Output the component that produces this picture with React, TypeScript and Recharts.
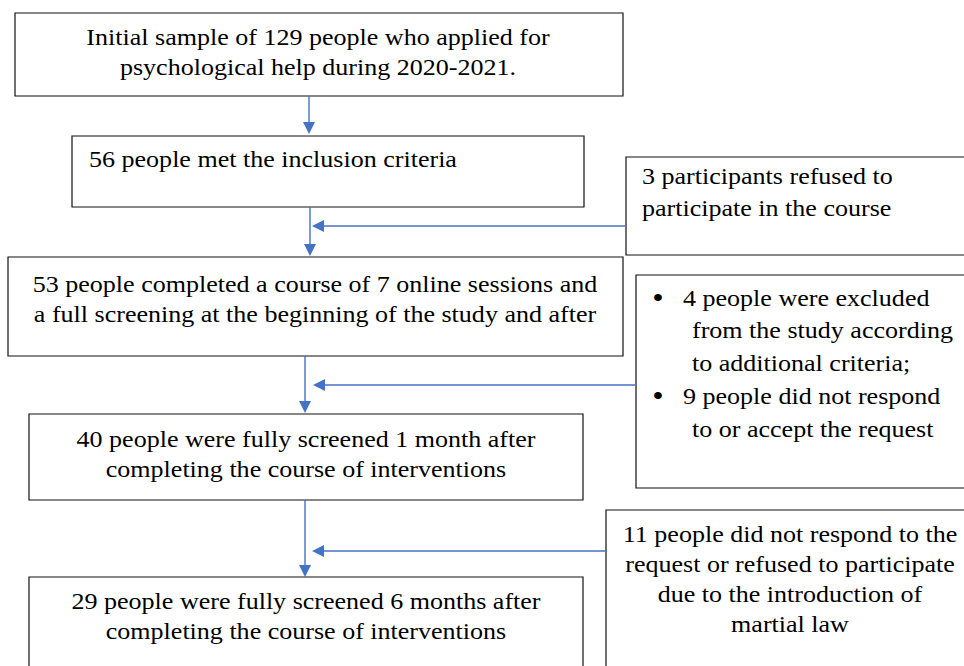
import React from "react";
import { ComposedChart, XAxis, YAxis, ReferenceArea, ReferenceLine, Scatter } from "recharts";

// ---- content (text of each flowchart box) ----
const initialLines = ["Initial sample of 129 people who applied for", "psychological help during 2020-2021."];
const inclusionLines = ["56 people met the inclusion criteria"];
const refusedLines = ["3 participants refused to", "participate in the course"];
const completedLines = [
  "53 people completed a course of 7 online sessions and",
  "a full screening at the beginning of the study and after",
];
const excludedBullets = [
  ["4 people were excluded", "from the study according", "to additional criteria;"],
  ["9 people did not respond", "to or accept the request"],
];
const oneMonthLines = ["40 people were fully screened 1 month after", "completing the course of interventions"];
const sixMonthLines = ["29 people were fully screened 6 months after", "completing the course of interventions"];
const martialLines = [
  "11 people did not respond to the",
  "request or refused to participate",
  "due to the introduction of",
  "martial law",
];

// ---- layout (diagram units = pixels of the 964x666 canvas) ----
const W = 964;
const H = 666;
const boxes = [
  { x1: 15, x2: 623, y1: 13, y2: 96 },
  { x1: 72, x2: 584, y1: 136, y2: 207 },
  { x1: 626, x2: 980, y1: 157, y2: 255 },
  { x1: 8, x2: 623, y1: 257, y2: 356 },
  { x1: 636, x2: 980, y1: 275, y2: 488 },
  { x1: 29, x2: 583, y1: 414, y2: 500 },
  { x1: 29, x2: 583, y1: 577, y2: 690 },
  { x1: 606, x2: 980, y1: 510, y2: 690 },
];
const connectors = [
  { from: { x: 309, y: 96 }, to: { x: 309, y: 134 }, dir: "down" },
  { from: { x: 310, y: 207 }, to: { x: 310, y: 256 }, dir: "down" },
  { from: { x: 626, y: 226 }, to: { x: 312, y: 226 }, dir: "left" },
  { from: { x: 305, y: 356 }, to: { x: 305, y: 413 }, dir: "down" },
  { from: { x: 636, y: 385 }, to: { x: 313, y: 385 }, dir: "left" },
  { from: { x: 305, y: 500 }, to: { x: 305, y: 577 }, dir: "down" },
  { from: { x: 606, y: 551 }, to: { x: 312, y: 551 }, dir: "left" },
];
const HEAD = 12;

type Pt = { x: number; y: number; text: string };
const linesAt = (lines: string[], x: number, y0: number, lh: number): Pt[] =>
  lines.map((t, i) => ({ x, y: y0 + i * lh, text: t }));

const centeredText: Pt[] = [
  ...linesAt(initialLines, 318, 45, 30),
  ...linesAt(completedLines, 315, 292, 29.5),
  ...linesAt(oneMonthLines, 306, 447, 29.5),
  ...linesAt(sixMonthLines, 306, 609, 29.5),
  ...linesAt(martialLines, 790, 542, 30),
];
const leftText: Pt[] = [
  ...linesAt(inclusionLines, 89, 167, 30),
  ...linesAt(refusedLines, 642, 184, 32),
  { x: 683, y: 306, text: excludedBullets[0][0] },
  ...linesAt(excludedBullets[0].slice(1), 692, 338, 32.5),
  { x: 683, y: 404, text: excludedBullets[1][0] },
  ...linesAt(excludedBullets[1].slice(1), 692, 437, 32.5),
];
const bulletMarks: Pt[] = [
  { x: 658, y: 308, text: "\u2022" },
  { x: 658, y: 406, text: "\u2022" },
];

const arrowHeads = connectors.map((c) => ({ x: c.to.x, y: c.to.y, dir: c.dir }));

const BLUE = "#4472C4";
const FONT = "Liberation Serif";
const FS = 24;
const SX = 1.085;

const makeText = (anchor: "start" | "middle", size: number) => (p: any) => (
  <text
    transform={`translate(${p.cx},${p.cy}) scale(${SX},1)`}
    textAnchor={anchor}
    fontFamily={FONT}
    fontSize={size}
    fill="#000"
  >
    {p.payload.text}
  </text>
);

const ArrowHead = (p: any) => {
  const { cx, cy } = p;
  const d = p.payload.dir;
  const h = HEAD / 2;
  const pts =
    d === "down"
      ? `${cx},${cy} ${cx - h},${cy - HEAD} ${cx + h},${cy - HEAD}`
      : `${cx},${cy} ${cx + HEAD},${cy - h} ${cx + HEAD},${cy + h}`;
  return <polygon points={pts} fill={BLUE} stroke="none" />;
};

const lineSegment = (c: any) => {
  const end =
    c.dir === "down" ? { x: c.to.x, y: c.to.y - HEAD + 1 } : { x: c.to.x + HEAD - 1, y: c.to.y };
  return [c.from, end];
};

export default function App() {
  return (
    <div
      style={{
        position: "absolute",
        left: 0,
        top: 0,
        width: W,
        height: H,
        overflow: "hidden",
        background: "#fff",
      }}
    >
      <ComposedChart width={W} height={H} margin={{ top: 0, right: 0, bottom: 0, left: 0 }}>
        <XAxis type="number" dataKey="x" domain={[0, W]} hide allowDataOverflow />
        <YAxis type="number" dataKey="y" domain={[0, H]} reversed hide allowDataOverflow />
        {boxes.map((b, i) => (
          <ReferenceArea
            key={`box${i}`}
            x1={b.x1}
            x2={b.x2}
            y1={b.y1}
            y2={b.y2}
            fill="#fff"
            fillOpacity={1}
            stroke="#111"
            strokeWidth={1.2}
            ifOverflow="visible"
          />
        ))}
        {connectors.map((c, i) => (
          <ReferenceLine
            key={`con${i}`}
            segment={lineSegment(c)}
            stroke={BLUE}
            strokeWidth={1.4}
            ifOverflow="visible"
          />
        ))}
        <Scatter data={arrowHeads} shape={ArrowHead} isAnimationActive={false} />
        <Scatter data={centeredText} shape={makeText("middle", FS)} isAnimationActive={false} />
        <Scatter data={leftText} shape={makeText("start", FS)} isAnimationActive={false} />
        <Scatter data={bulletMarks} shape={makeText("middle", 30)} isAnimationActive={false} />
      </ComposedChart>
    </div>
  );
}
